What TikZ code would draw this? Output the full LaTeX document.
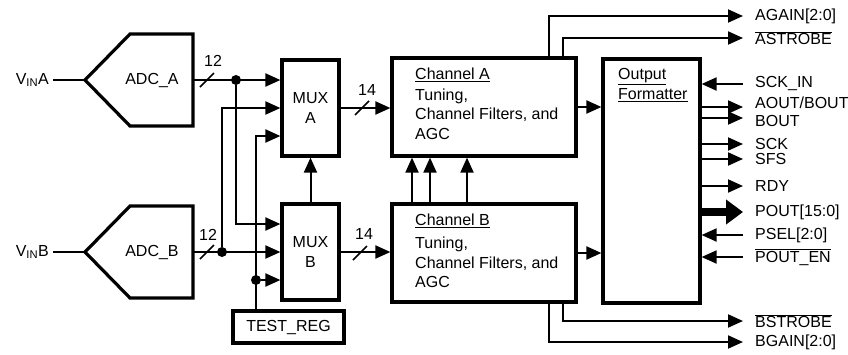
\documentclass[tikz,border=0pt]{standalone}
\usepackage{fontspec}
\setmainfont{Liberation Sans}
\usetikzlibrary{arrows.meta,calc}

\begin{document}
\begin{tikzpicture}[
    x=1pt,y=-1pt,
    every node/.style={font=\fontsize{16}{19.5}\selectfont},
    block/.style={draw,line width=3.2pt,inner sep=0pt,align=center},
    wire/.style={line width=2pt},
    arr/.style={wire,-{Triangle[length=15pt,width=13pt]}},
    fatarr/.style={line width=8pt,-{Triangle[length=17pt,width=24pt]}},
    junction/.style={circle,fill,inner sep=0pt,minimum size=10pt},
    signal/.style={anchor=west,inner xsep=12pt,inner ysep=0pt},
    txt/.style={anchor=west,align=left,inner sep=0pt}]

    \useasboundingbox (0,0) rectangle (848,354);

    % converters
    \draw[line width=3.2pt] (85,80) -- (130,34) -- (193,34) -- (193,126) -- (130,126) -- cycle;
    \draw[line width=3.2pt] (85,252) -- (130,206) -- (193,206) -- (193,298) -- (130,298) -- cycle;
    \coordinate (adcAin)  at (85,80);
    \coordinate (adcAout) at (193,80);
    \coordinate (adcBin)  at (85,252);
    \coordinate (adcBout) at (193,252);
    \node (adcA) at (152,80)  {ADC\_A};
    \node (adcB) at (152,252) {ADC\_B};
    \node[anchor=east,inner xsep=4pt] (vinA) at (53,80)  {V\textsubscript{IN}A};
    \node[anchor=east,inner xsep=4pt] (vinB) at (53,252) {V\textsubscript{IN}B};

    \node[block,minimum width=57pt,minimum height=96pt] (muxA) at (310.5,108) {MUX\\A};
    \node[block,minimum width=57pt,minimum height=96pt] (muxB) at (310.5,252) {MUX\\B};
    \node[block,minimum width=111pt,minimum height=32pt] (testreg) at (288.5,327) {TEST\_REG};

    \node[block,minimum width=184pt,minimum height=98pt] (chanA) at (484,107) {};
    \node[block,minimum width=184pt,minimum height=98pt] (chanB) at (484,253) {};
    \node[txt] (chanAtext) at (415,104) {\underline{Channel A}\\[1pt]Tuning,\\Channel Filters, and\\AGC};
    \node[txt] (chanBtext) at (415,251) {\underline{Channel B}\\[4pt]Tuning,\\Channel Filters, and\\AGC};

    \node[block,minimum width=97pt,minimum height=244pt] (fmt) at (651.5,181) {};
    \node[txt] (fmttext) at (618,85) {\underline{Output}\\\underline{Formatter}};

    % bus widths
    \node (busA)  at (213,61)  {12};
    \node (busB)  at (208,235) {12};
    \node (busMA) at (367,90)  {14};
    \node (busMB) at (364,234) {14};
    \foreach \p in {(207,80),(207,252),(362,108),(360,253)}
        \draw[line width=1.5pt] \p +(-7,7) -- +(7,-7);

    \draw[wire] (vinA.east) -- (adcAin);
    \draw[wire] (vinB.east) -- (adcBin);
    \draw[arr] (adcAout) -- (adcAout -| muxA.west);
    \draw[arr] (adcBout) -- (adcBout -| muxB.west);

    \node[junction] (jA) at (236,80)  {};
    \node[junction] (jB) at (222,252) {};
    \node[junction] (jT) at (256,280) {};
    \draw[arr] (jA) |- ($(muxB.west)+(0,-28)$);
    \draw[arr] (jB) |- (muxA.west);
    \draw[arr] (testreg.north -| jT) |- ($(muxA.west)+(0,28)$);
    \draw[arr] (jT) -- (jT -| muxB.west);
    \draw[arr] (muxB.north) -- (muxA.south);

    \draw[arr] (muxA.east) -- (muxA.east -| chanA.west);
    \draw[arr] (muxB.east) -- (muxB.east -| chanB.west);
    \foreach \x in {412,430,467}
        \draw[arr] (chanB.north -| \x,0) -- (chanA.south -| \x,0);
    \draw[arr] (chanA.east) -- (chanA.east -| fmt.west);
    \draw[arr] (chanB.east) -- (chanB.east -| fmt.west);

    % signals on the right
    \node[signal] (again)   at (743,16)  {AGAIN[2:0]};
    \node[signal] (astrobe) at (743,38)  {$\overline{\mbox{ASTROBE}}$};
    \node[signal] (sckin)   at (743,84)  {SCK\_IN};
    \node[signal] (aout)    at (743,103) {AOUT/BOUT};
    \node[signal] (bout)    at (743,121) {BOUT};
    \node[signal] (sck)     at (743,144) {SCK};
    \node[signal] (sfs)     at (743,159) {SFS};
    \node[signal] (rdy)     at (743,186) {RDY};
    \node[signal] (pout)    at (743,212) {POUT[15:0]};
    \node[signal] (psel)    at (743,235) {PSEL[2:0]};
    \node[signal] (pouten)  at (743,257) {$\overline{\mbox{POUT\_EN}}$};
    \node[signal] (bstrobe) at (743,321) {$\overline{\mbox{BSTROBE}}$};
    \node[signal] (bgain)   at (743,342) {BGAIN[2:0]};

    \draw[arr] (chanA.north -| 549,0) |- (again.west);
    \draw[arr] (chanA.north -| 563,0) |- (astrobe.west);
    \draw[arr] (chanB.south -| 563,0) |- (bstrobe.west);
    \draw[arr] (chanB.south -| 549,0) |- (bgain.west);

    \foreach \s in {sckin,psel,pouten}
        \draw[arr] (\s.west) -- (\s.west -| fmt.east);
    \foreach \s in {sck,sfs,rdy}
        \draw[arr] (\s.west -| fmt.east) -- (\s.west);
    \draw[arr] ([yshift=-4pt]aout.west -| fmt.east) -- ([yshift=-4pt]aout.west);
    \draw[arr] ([yshift=3pt]bout.west -| fmt.east) -- ([yshift=3pt]bout.west);
    \draw[fatarr] (pout.west -| fmt.east) -- (pout.west);

\end{tikzpicture}
\end{document}
